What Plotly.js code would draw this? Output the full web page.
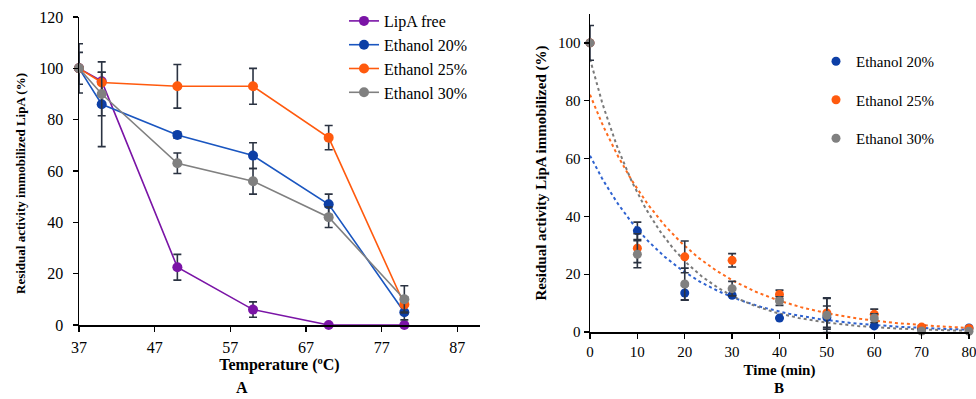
<!DOCTYPE html>
<html>
<head>
<meta charset="utf-8">
<script src="https://cdn.plot.ly/plotly-3.0.1.min.js"></script>
<style>html,body{margin:0;padding:0;background:#fff;}#chart{width:976px;height:399px;}</style>
</head>
<body>
<div id="chart"></div>
<script>
// ---- Panel A: residual activity vs temperature ----
const tempX = [37, 40, 50, 60, 70, 80];
const lipaFree = [100, 95, 22.5, 6, 0, 0];
const lipaFreeErr = [0, 0, 5, 3, 0, 0];
const eth20A = [100, 86, 74, 66, 47, 5];
const eth20AErr = [6.2, 16.5, 1.2, 5, 4, 3];
const eth25A = [100, 94.5, 93, 93, 73, 8];
const eth25AErr = [0, 4, 8.5, 7, 4.7, 3];
const eth30A = [100, 90, 63, 56, 42, 10];
const eth30AErr = [9.6, 8.5, 4, 5, 4, 5.3];

// ---- Panel B: residual activity vs time ----
const timeX = [0, 10, 20, 30, 40, 50, 60, 70, 80];
const eth20B = [100, 35, 13.5, 12.7, 4.8, 5, 2.1, 1, 1.4];
const eth20BErr = [0, 3, 2.5, 0, 0, 4, 0, 0, 0];
const eth25B = [100, 29, 26, 24.8, 13, 6.6, 6.1, 1.7, 1.2];
const eth25BErr = [6, 5, 5.5, 2.3, 1.5, 5, 1.8, 0.5, 0.5];
const eth30B = [100, 26.9, 16.6, 15, 10.7, 5.8, 4.8, 0.35, 0.25];
const eth30BErr = [0, 4.7, 5.5, 2.5, 1.5, 6, 1.5, 0.5, 0];

const seriesNamesA = ['LipA free', 'Ethanol 20%', 'Ethanol 25%', 'Ethanol 30%'];
const seriesNamesB = ['Ethanol 20%', 'Ethanol 25%', 'Ethanol 30%'];

const C_PURPLE = '#7a14a6', C_BLUE = '#0d3fa6', C_BLUE_L = '#1a56c0', C_ORANGE = '#ff5a0e', C_GRAY = '#808080';
const ERRC = '#2b3342';
const FONT = 'Liberation Serif';

// Excel-style exponential trendline fitted from the data (least squares on ln y)
function expFit(xs, ys) {
  const n = xs.length;
  const ly = ys.map(v => Math.log(v));
  const mx = xs.reduce((a, b) => a + b, 0) / n;
  const my = ly.reduce((a, b) => a + b, 0) / n;
  let num = 0, den = 0;
  for (let i = 0; i < n; i++) { num += (xs[i] - mx) * (ly[i] - my); den += (xs[i] - mx) ** 2; }
  const b = num / den, a = Math.exp(my - b * mx);
  const fx = [], fy = [];
  const x0 = xs[0], x1 = xs[n - 1];
  for (let i = 0; i <= 160; i++) { const x = x0 + (x1 - x0) * i / 160; fx.push(x); fy.push(a * Math.exp(b * x)); }
  return {x: fx, y: fy};
}

function errA(arr) { return {type: 'data', array: arr, visible: true, color: ERRC, thickness: 1.6, width: 4}; }

const traces = [];
const specA = [
  [lipaFree, lipaFreeErr, C_PURPLE, C_PURPLE],
  [eth20A, eth20AErr, C_BLUE_L, C_BLUE],
  [eth25A, eth25AErr, C_ORANGE, C_ORANGE],
  [eth30A, eth30AErr, C_GRAY, C_GRAY]
];
specA.forEach((s, i) => {
  traces.push({
    x: tempX, y: s[0], name: seriesNamesA[i], type: 'scatter', mode: 'lines+markers',
    xaxis: 'x', yaxis: 'y', legend: 'legend',
    line: {color: s[2], width: 1.6}, marker: {color: s[3], size: 10},
    error_y: errA(s[1]), cliponaxis: false
  });
});

const specB = [
  [eth20B, eth20BErr, C_BLUE, '#2e62d0'],
  [eth25B, eth25BErr, C_ORANGE, '#ff6a1c'],
  [eth30B, eth30BErr, C_GRAY, '#7a7a7a']
];
specB.forEach((s, i) => {
  const f = expFit(timeX, s[0]);
  traces.push({
    x: f.x, y: f.y, type: 'scatter', mode: 'lines', xaxis: 'x2', yaxis: 'y2',
    showlegend: false, hoverinfo: 'skip', line: {color: s[3], width: 2, dash: 'dot'}, cliponaxis: false
  });
});
specB.forEach((s, i) => {
  traces.push({
    x: timeX, y: s[0], name: seriesNamesB[i], type: 'scatter', mode: 'markers',
    xaxis: 'x2', yaxis: 'y2', legend: 'legend2', legendgroup: 'b' + i,
    marker: {color: s[2], size: 9},
    error_y: errA(s[1]), cliponaxis: false
  });
});

const axBase = {
  showgrid: false, zeroline: false, showline: true, linecolor: '#000', linewidth: 1.5,
  ticks: 'outside', ticklen: 5, tickwidth: 1.3, tickcolor: '#000', automargin: false,
  ticklabeloverflow: 'allow'
};

const layout = {
  width: 976, height: 399,
  margin: {l: 0, r: 0, t: 0, b: 0},
  paper_bgcolor: '#fff', plot_bgcolor: '#fff',
  font: {family: FONT, color: '#000'},
  xaxis: Object.assign({}, axBase, {
    domain: [79 / 976, 480 / 976], anchor: 'y', range: [37, 90], tick0: 37, dtick: 10,
    tickfont: {size: 16, family: FONT, color: '#000'}, ticklabelstandoff: 2,
    title: {text: 'Temperature (ºC)', font: {size: 16, family: FONT, weight: 'bold', color: '#000'}, standoff: 1}
  }),
  yaxis: Object.assign({}, axBase, {
    domain: [1 - 325 / 399, 1 - 17 / 399], anchor: 'x', range: [0, 120], dtick: 20,
    tickfont: {size: 16, family: FONT, color: '#000'}, ticklabelstandoff: 6
  }),
  xaxis2: Object.assign({}, axBase, {
    domain: [590 / 976, 969 / 976], anchor: 'y2', range: [0, 80], dtick: 10,
    tickfont: {size: 15, family: FONT, color: '#000'},
    title: {text: 'Time (min)', font: {size: 15, family: FONT, weight: 'bold', color: '#000'}, standoff: 6}
  }),
  yaxis2: Object.assign({}, axBase, {
    domain: [1 - 332 / 399, 1 - 14 / 399], anchor: 'x2', range: [0, 110], tickvals: [0, 20, 40, 60, 80, 100],
    tickfont: {size: 15, family: FONT, color: '#000'},
    title: {text: 'Residual activity LipA immobilized (%)', font: {size: 15, family: FONT, weight: 'bold', color: '#000'}, standoff: 8}
  }),
  legend: {
    x: 344 / 976, y: 1 - 4 / 399, xanchor: 'left', yanchor: 'top', bgcolor: 'rgba(0,0,0,0)',
    font: {size: 16, family: FONT, color: '#000'}, itemwidth: 30
  },
  legend2: {
    x: 816 / 976, y: 1 - 45 / 399, xanchor: 'left', yanchor: 'top', bgcolor: 'rgba(0,0,0,0)',
    font: {size: 15, family: FONT, color: '#000'}, tracegroupgap: 16, itemwidth: 30
  },
  annotations: [
    {text: '<b>Residual activity immobilized LipA (%)</b>', xref: 'paper', yref: 'paper', x: 20 / 976, y: 1 - 184 / 399,
     textangle: -90, showarrow: false, font: {size: 13, family: FONT, color: '#000'}, xanchor: 'center', yanchor: 'middle'},
    {text: '<b>A</b>', xref: 'paper', yref: 'paper', x: 242 / 976, y: 1 - 387 / 399, showarrow: false, font: {size: 16, family: FONT, color: '#000'}, xanchor: 'center', yanchor: 'middle'},
    {text: '<b>B</b>', xref: 'paper', yref: 'paper', x: 779 / 976, y: 1 - 388 / 399, showarrow: false, font: {size: 15, family: FONT, color: '#000'}, xanchor: 'center', yanchor: 'middle'}
  ],
  showlegend: true
};

Plotly.newPlot('chart', traces, layout, {displayModeBar: false, staticPlot: true});
</script>
</body>
</html>
